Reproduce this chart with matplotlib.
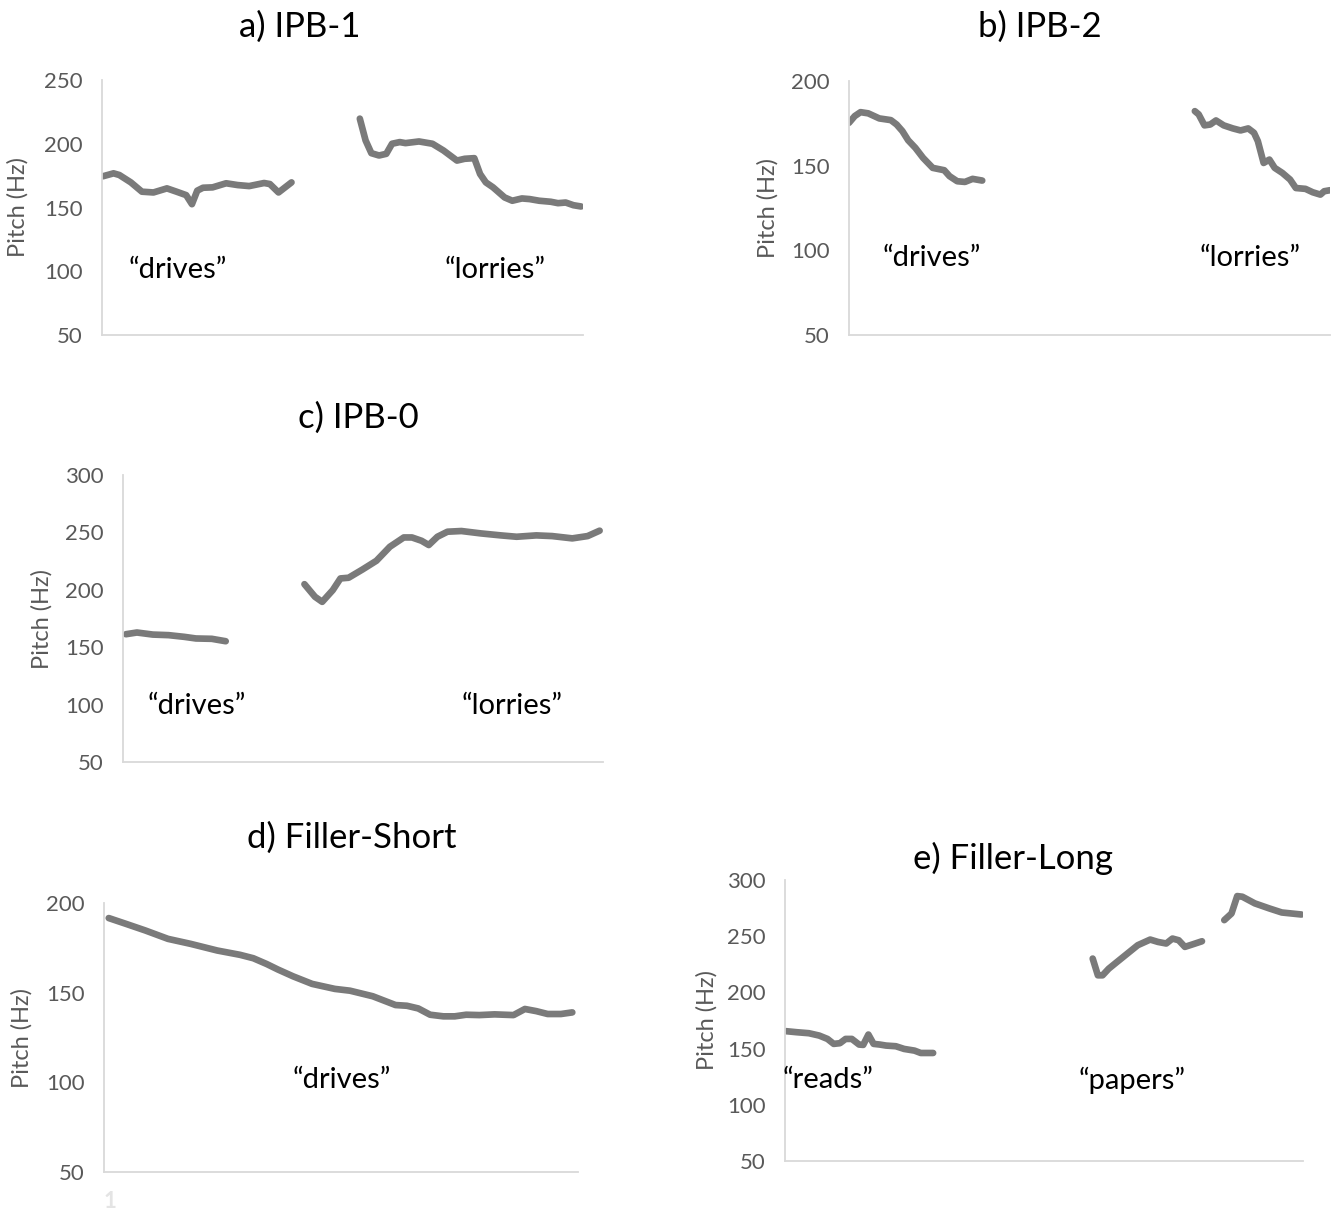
import matplotlib.pyplot as plt
import numpy as np

plt.rcParams['font.family'] = ['Lato', 'DejaVu Sans']

LINE = '#7a7a7a'
AXIS = '#d9d9d9'
TICK = '#595959'

# a) IPB-1
a_drives_t = [0.2, 2.4, 3.6, 6, 8.3, 10.7, 13.5, 15.5, 17.5, 18.7, 19.8, 21, 23, 25.8,
              28.2, 30.6, 33.7, 34.9, 36.7, 39.4]
a_drives_f = [174.5, 176.8, 175.5, 169.7, 162.4, 161.8, 165, 162.4, 159.7, 152.6, 163.2,
              165.5, 165.8, 169, 167.6, 166.8, 169.2, 168.4, 161.8, 169.7]
a_lorries_t = [53.6, 54.8, 56, 57.6, 59.1, 60.3, 61.9, 63.1, 65.9, 68.7, 71, 73.8, 75.4,
               77.4, 78.6, 79.8, 81.3, 83.7, 85.3, 87.3, 88.9, 90.9, 93.3, 94.8, 96.4,
               98, 99.6]
a_lorries_f = [219.7, 202.6, 192.6, 190.8, 192.1, 200, 201.3, 200.5, 201.8, 200, 194.7,
               186.8, 188.2, 188.7, 176.3, 169.7, 165.8, 157.9, 155.3, 157.1, 156.6,
               155.3, 154.5, 153.4, 153.9, 151.8, 150.8]

# b) IPB-2
b_drives_t = [0, 1.2, 2.4, 4, 6.3, 8.7, 9.9, 11.1, 12.3, 13.8, 15.4, 17.4, 19.8, 20.9,
              22.5, 24.1, 25.7, 27.7]
b_drives_f = [175.3, 179.3, 181.6, 180.9, 177.9, 176.9, 174.3, 170.4, 165, 160.5, 154.6,
              148.7, 147.3, 143.8, 140.8, 140.4, 142.2, 141.2]
b_lorries_t = [71.9, 72.7, 73.9, 75.1, 76.3, 77.9, 79.8, 81.4, 83, 84.2, 85, 86.2, 87.4,
               88.5, 90.1, 91.7, 92.9, 94.9, 96.4, 98, 98.8, 100]
b_lorries_f = [182.2, 180.3, 173.8, 174.3, 176.7, 173.8, 172, 170.8, 172, 169.4, 164.5,
               151.6, 153.6, 148.7, 145.7, 141.8, 136.8, 136.3, 134.3, 132.9, 134.9, 135.5]

# c) IPB-0
c_drives_t = [0.6, 2.9, 6.2, 9.5, 12.8, 15.2, 18.5, 21.4]
c_drives_f = [161.3, 162.8, 161, 160.5, 159, 157.6, 157.3, 155.2]
c_lorries_t = [37.8, 40, 41.5, 43.7, 45.3, 47, 49.9, 52.8, 55.6, 58.5, 60.2, 62.2, 63.7,
               65.5, 67.6, 70.5, 74.6, 78.7, 82, 86.1, 89.4, 93.6, 96.8, 99.3]
c_lorries_f = [204.9, 193.9, 189.5, 199.7, 209.9, 210.5, 217.7, 225.3, 237.5, 245.6,
               245.6, 242.7, 239, 246.2, 250.6, 251.2, 249.1, 247.4, 246.2, 247.4, 246.8,
               244.8, 246.8, 251.5]

# d) Filler-Short
d_drives_t = [1, 4.6, 8.7, 13.5, 18.3, 23.9, 28.7, 31.5, 34.3, 36.7, 39.9, 43.9, 46.3,
              48.7, 51.9, 56.7, 61.5, 63.9, 66.3, 68.8, 71.6, 74, 76.4, 79.2, 82.4, 86.4,
              88.8, 91.2, 93.6, 96.4, 98.8]
d_drives_f = [191.6, 188.4, 184.7, 180, 177.2, 173.5, 171.1, 169.2, 166, 162.9, 159.1,
              154.9, 153.5, 152.1, 151.1, 148, 143.1, 142.7, 141.2, 137.7, 136.8, 136.8,
              137.7, 137.5, 137.9, 137.5, 140.9, 139.7, 138.1, 138.1, 139]

# e) Filler-Long
e_reads_t = [0.2, 2.2, 4.6, 6.6, 8.2, 9.4, 10.6, 11.7, 12.9, 14.3, 15.1, 16.1, 17.1, 18.3,
             19.5, 21.4, 23, 25, 26.2, 28.6]
e_reads_f = [165.5, 164.6, 163.7, 161.6, 158.6, 154.2, 154.8, 158.6, 158.6, 153.6, 153.3,
             162.5, 154.2, 153.6, 152.7, 152.1, 149.7, 148.2, 146.1, 146.1]
e_papers1_t = [59.4, 60.4, 61.3, 62.5, 64.1, 68.1, 70.5, 72, 73.6, 74.8, 76, 77.2, 78.8, 80.5]
e_papers1_f = [230.1, 215.2, 215.2, 221.1, 227.1, 242, 247, 244.9, 243.5, 247.9, 246.4,
               240.5, 242.9, 245.5]
e_papers2_t = [84.8, 86.2, 87.3, 88.3, 90.7, 93.5, 95.9, 99.7]
e_papers2_f = [264.3, 270.2, 285.7, 285.1, 279.2, 274.7, 271.1, 269.3]

W, H = 1335, 1215
fig = plt.figure(figsize=(W / 100, H / 100), dpi=100)


def px_axes(x0, y0, x1, y1):
    # pixel box (top-left origin) -> figure fraction
    return fig.add_axes([x0 / W, 1 - y1 / H, (x1 - x0) / W, (y1 - y0) / H])


def style(ax, top):
    ax.set_xlim(0, 100)
    ax.set_ylim(50, top)
    ax.set_yticks(np.arange(50, top + 1, 50))
    for s in ['top', 'right']:
        ax.spines[s].set_visible(False)
    for s in ['left', 'bottom']:
        ax.spines[s].set_color(AXIS)
        ax.spines[s].set_linewidth(1.3)
    ax.tick_params(axis='y', length=0, pad=14, labelsize=16, labelcolor=TICK)
    ax.tick_params(axis='x', length=0)
    ax.set_xticks([])


def ylabel(ax, xpix):
    box = ax.get_position()
    fig.text(xpix / W, box.y0 + box.height / 2, 'Pitch (Hz)', fontsize=17,
             color=TICK, rotation=90, ha='center', va='center')


def title(text, xpix, ypix):
    fig.text(xpix / W, 1 - ypix / H, text, fontsize=25, ha='center', va='center')


def word(ax, x, y, text):
    ax.text(x, y, text, fontsize=21, ha='center', va='center', color='black')


lw = 4.8

ax = px_axes(102, 80, 583, 335)
style(ax, 250)
ax.plot(a_drives_t, a_drives_f, color=LINE, lw=lw, solid_capstyle='round')
ax.plot(a_lorries_t, a_lorries_f, color=LINE, lw=lw, solid_capstyle='round')
word(ax, 15.8, 101, '“drives”')
word(ax, 81.7, 101, '“lorries”')
ylabel(ax, 18)
title('a) IPB-1', 300, 27)

ax = px_axes(849, 81, 1330, 335)
style(ax, 200)
ax.plot(b_drives_t, b_drives_f, color=LINE, lw=lw, solid_capstyle='round')
ax.plot(b_lorries_t, b_lorries_f, color=LINE, lw=lw, solid_capstyle='round')
word(ax, 17.3, 95.5, '“drives”')
word(ax, 83.4, 95.5, '“lorries”')
ylabel(ax, 768)
title('b) IPB-2', 1040, 27)

ax = px_axes(123, 475, 603, 762)
style(ax, 300)
ax.plot(c_drives_t, c_drives_f, color=LINE, lw=lw, solid_capstyle='round')
ax.plot(c_lorries_t, c_lorries_f, color=LINE, lw=lw, solid_capstyle='round')
word(ax, 15.4, 98.8, '“drives”')
word(ax, 81, 98.8, '“lorries”')
ylabel(ax, 42)
title('c) IPB-0', 358, 418)

ax = px_axes(104, 903, 578, 1172)
style(ax, 200)
ax.plot(d_drives_t, d_drives_f, color=LINE, lw=lw, solid_capstyle='round')
word(ax, 50.2, 101.3, '“drives”')
ax.set_xticks([1.3])
ax.set_xticklabels(['1'], fontsize=16, color='#e4e4e4', fontweight='bold')
ax.tick_params(axis='x', pad=14)
ylabel(ax, 22)
title('d) Filler-Short', 352, 838)

ax = px_axes(785, 880, 1303, 1161)
style(ax, 300)
ax.plot(e_reads_t, e_reads_f, color=LINE, lw=lw, solid_capstyle='round')
ax.plot(e_papers1_t, e_papers1_f, color=LINE, lw=lw, solid_capstyle='round')
ax.plot(e_papers2_t, e_papers2_f, color=LINE, lw=lw, solid_capstyle='round')
word(ax, 8.3, 122, '“reads”')
word(ax, 67, 122, '“papers”')
ylabel(ax, 707)
title('e) Filler-Long', 1013, 858)

fig.savefig('out.png', dpi=100)
